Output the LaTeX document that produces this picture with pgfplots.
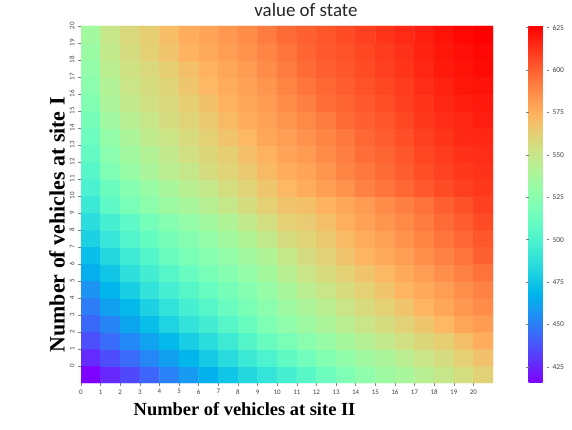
\documentclass[border=0pt]{standalone}
\usepackage{pgfplots}
\pgfplotsset{compat=1.18}
\usepackage{fontspec}
\setmainfont{Liberation Serif}
\newfontfamily\calibri{Carlito}

% matplotlib "rainbow": r=|2x-0.5|, g=sin(pi x), b=cos(pi x/2)
\pgfplotsset{
  colormap={mplrainbow}{
    rgb=(0.5,0,1) rgb=(0.4,0.156,0.997) rgb=(0.3,0.309,0.988) rgb=(0.2,0.454,0.972)
    rgb=(0.1,0.588,0.951) rgb=(0,0.707,0.924) rgb=(0.1,0.809,0.891) rgb=(0.2,0.891,0.853)
    rgb=(0.3,0.951,0.809) rgb=(0.4,0.988,0.760) rgb=(0.5,1,0.707) rgb=(0.6,0.988,0.649)
    rgb=(0.7,0.951,0.588) rgb=(0.8,0.891,0.522) rgb=(0.9,0.809,0.454) rgb=(1,0.707,0.383)
    rgb=(1,0.588,0.309) rgb=(1,0.454,0.233) rgb=(1,0.309,0.156) rgb=(1,0.156,0.078)
    rgb=(1,0,0)
  }
}

\begin{document}
\begin{tikzpicture}
\path[use as bounding box] (-81bp,-47bp) rectangle (491bp,383bp);
\begin{axis}[
  scale only axis, width=412bp, height=357bp,
  xmin=-0.5, xmax=20.5, ymin=-0.5, ymax=20.5,
  axis line style={draw=none},
  colormap name=mplrainbow,
  point meta min=415.5, point meta max=626,
  xtick={-0.5,0.5,1.5,2.5,3.5,4.5,5.5,6.5,7.5,8.5,9.5,10.5,11.5,12.5,13.5,14.5,15.5,16.5,17.5,18.5,19.5},
  xticklabels={0,1,2,3,4,5,6,7,8,9,10,11,12,13,14,15,16,17,18,19,20},
  ytick={0.5,1.5,2.5,3.5,4.5,5.5,6.5,7.5,8.5,9.5,10.5,11.5,12.5,13.5,14.5,15.5,16.5,17.5,18.5,19.5,20.5},
  yticklabels={0,1,2,3,4,5,6,7,8,9,10,11,12,13,14,15,16,17,18,19,20},
  tick pos=left, tick align=outside, major tick length=3bp,
  tick style={draw=gray, line width=0.5pt},
  ticklabel style={font=\calibri\fontsize{7}{8}\selectfont, text=black!75},
  yticklabel style={rotate=90, anchor=south},
  title={value of state},
  title style={at={(axis description cs:0.546,1)}, anchor=base, yshift=4bp,
    font=\calibri\fontsize{19}{21}\selectfont, text=black!85},
  xlabel={Number of vehicles at site II},
  xlabel style={at={(axis description cs:0.397,0)}, anchor=base, yshift=-32bp,
    font=\fontsize{18.5}{20}\selectfont\bfseries},
  ylabel={Number of vehicles at site I},
  ylabel style={at={(axis description cs:-0.04,0.443)}, anchor=base,
    font=\fontsize{22}{24}\selectfont\bfseries},
  colorbar,
  colorbar style={
    at={(parent axis.north east)}, anchor=north west, xshift=27bp,
    scale only axis, width=18bp, height=357bp,
    axis line style={draw=none},
    ytick={425,450,475,500,525,550,575,600,625},
    tick align=outside, major tick length=2.5bp,
    tick style={draw=gray, line width=0.5pt},
    yticklabel style={font=\calibri\fontsize{7.5}{8}\selectfont, text=black!75, rotate=0},
    /pgf/number format/assume math mode=true,
  },
]
\addplot[matrix plot*, mesh/cols=21, point meta=explicit]
  table[row sep=\\, x=x, y=y, meta=v] {
x y v\\
0 0 416\\ 1 0 426\\ 2 0 435\\ 3 0 443\\ 4 0 451\\ 5 0 459\\ 6 0 467\\ 7 0 475\\ 8 0 483\\ 9 0 490\\ 10 0 497\\ 11 0 505\\ 12 0 513\\ 13 0 520\\ 14 0 527\\ 15 0 533\\ 16 0 538\\ 17 0 544\\ 18 0 550\\ 19 0 555\\ 20 0 561\\
0 1 427\\ 1 1 436\\ 2 1 445\\ 3 1 453\\ 4 1 461\\ 5 1 469\\ 6 1 477\\ 7 1 485\\ 8 1 493\\ 9 1 500\\ 10 1 508\\ 11 1 515\\ 12 1 522\\ 13 1 528\\ 14 1 534\\ 15 1 539\\ 16 1 545\\ 17 1 551\\ 18 1 556\\ 19 1 562\\ 20 1 568\\
0 2 437\\ 1 2 445\\ 2 2 454\\ 3 2 462\\ 4 2 470\\ 5 2 478\\ 6 2 486\\ 7 2 494\\ 8 2 503\\ 9 2 511\\ 10 2 518\\ 11 2 525\\ 12 2 531\\ 13 2 537\\ 14 2 543\\ 15 2 548\\ 16 2 554\\ 17 2 559\\ 18 2 563\\ 19 2 569\\ 20 2 576\\
0 3 444\\ 1 3 452\\ 2 3 463\\ 3 3 472\\ 4 3 481\\ 5 3 489\\ 6 3 496\\ 7 3 504\\ 8 3 511\\ 9 3 520\\ 10 3 527\\ 11 3 533\\ 12 3 539\\ 13 3 545\\ 14 3 551\\ 15 3 556\\ 16 3 561\\ 17 3 566\\ 18 3 572\\ 19 3 578\\ 20 3 582\\
0 4 450\\ 1 4 461\\ 2 4 470\\ 3 4 480\\ 4 4 489\\ 5 4 497\\ 6 4 504\\ 7 4 511\\ 8 4 518\\ 9 4 525\\ 10 4 533\\ 11 4 539\\ 12 4 545\\ 13 4 551\\ 14 4 557\\ 15 4 562\\ 16 4 567\\ 17 4 573\\ 18 4 578\\ 19 4 583\\ 20 4 587\\
0 5 457\\ 1 5 468\\ 2 5 479\\ 3 5 489\\ 4 5 497\\ 5 5 504\\ 6 5 511\\ 7 5 517\\ 8 5 523\\ 9 5 530\\ 10 5 538\\ 11 5 545\\ 12 5 551\\ 13 5 557\\ 14 5 562\\ 15 5 567\\ 16 5 573\\ 17 5 577\\ 18 5 581\\ 19 5 586\\ 20 5 590\\
0 6 466\\ 1 6 475\\ 2 6 487\\ 3 6 496\\ 4 6 504\\ 5 6 511\\ 6 6 518\\ 7 6 523\\ 8 6 529\\ 9 6 536\\ 10 6 544\\ 11 6 551\\ 12 6 557\\ 13 6 562\\ 14 6 567\\ 15 6 572\\ 16 6 577\\ 17 6 581\\ 18 6 586\\ 19 6 590\\ 20 6 595\\
0 7 472\\ 1 7 483\\ 2 7 494\\ 3 7 503\\ 4 7 512\\ 5 7 518\\ 6 7 524\\ 7 7 529\\ 8 7 535\\ 9 7 541\\ 10 7 550\\ 11 7 556\\ 12 7 561\\ 13 7 567\\ 14 7 573\\ 15 7 577\\ 16 7 581\\ 17 7 586\\ 18 7 590\\ 19 7 594\\ 20 7 600\\
0 8 480\\ 1 8 491\\ 2 8 502\\ 3 8 510\\ 4 8 517\\ 5 8 523\\ 6 8 529\\ 7 8 535\\ 8 8 541\\ 9 8 548\\ 10 8 556\\ 11 8 560\\ 12 8 565\\ 13 8 571\\ 14 8 576\\ 15 8 580\\ 16 8 585\\ 17 8 589\\ 18 8 594\\ 19 8 598\\ 20 8 603\\
0 9 486\\ 1 9 497\\ 2 9 507\\ 3 9 516\\ 4 9 523\\ 5 9 529\\ 6 9 535\\ 7 9 541\\ 8 9 548\\ 9 9 555\\ 10 9 562\\ 11 9 564\\ 12 9 569\\ 13 9 575\\ 14 9 580\\ 15 9 584\\ 16 9 588\\ 17 9 592\\ 18 9 597\\ 19 9 601\\ 20 9 606\\
0 10 493\\ 1 10 507\\ 2 10 518\\ 3 10 526\\ 4 10 533\\ 5 10 538\\ 6 10 544\\ 7 10 550\\ 8 10 556\\ 9 10 562\\ 10 10 567\\ 11 10 569\\ 12 10 574\\ 13 10 578\\ 14 10 582\\ 15 10 587\\ 16 10 591\\ 17 10 595\\ 18 10 600\\ 19 10 604\\ 20 10 609\\
0 11 499\\ 1 11 512\\ 2 11 523\\ 3 11 531\\ 4 11 538\\ 5 11 544\\ 6 11 549\\ 7 11 555\\ 8 11 560\\ 9 11 566\\ 10 11 572\\ 11 11 576\\ 12 11 581\\ 13 11 585\\ 14 11 590\\ 15 11 594\\ 16 11 598\\ 17 11 602\\ 18 11 606\\ 19 11 609\\ 20 11 611\\
0 12 504\\ 1 12 520\\ 2 12 531\\ 3 12 538\\ 4 12 545\\ 5 12 550\\ 6 12 556\\ 7 12 560\\ 8 12 565\\ 9 12 571\\ 10 12 576\\ 11 12 579\\ 12 12 584\\ 13 12 589\\ 14 12 593\\ 15 12 597\\ 16 12 601\\ 17 12 605\\ 18 12 608\\ 19 12 611\\ 20 12 613\\
0 13 509\\ 1 13 525\\ 2 13 535\\ 3 13 542\\ 4 13 548\\ 5 13 554\\ 6 13 559\\ 7 13 563\\ 8 13 569\\ 9 13 574\\ 10 13 579\\ 11 13 582\\ 12 13 587\\ 13 13 591\\ 14 13 596\\ 15 13 599\\ 16 13 603\\ 17 13 607\\ 18 13 610\\ 19 13 613\\ 20 13 614\\
0 14 513\\ 1 14 529\\ 2 14 539\\ 3 14 547\\ 4 14 552\\ 5 14 557\\ 6 14 562\\ 7 14 567\\ 8 14 572\\ 9 14 578\\ 10 14 581\\ 11 14 585\\ 12 14 589\\ 13 14 593\\ 14 14 598\\ 15 14 601\\ 16 14 605\\ 17 14 609\\ 18 14 612\\ 19 14 615\\ 20 14 616\\
0 15 517\\ 1 15 534\\ 2 15 544\\ 3 15 550\\ 4 15 556\\ 5 15 560\\ 6 15 565\\ 7 15 571\\ 8 15 576\\ 9 15 580\\ 10 15 584\\ 11 15 588\\ 12 15 592\\ 13 15 597\\ 14 15 600\\ 15 15 603\\ 16 15 607\\ 17 15 611\\ 18 15 614\\ 19 15 616\\ 20 15 618\\
0 16 522\\ 1 16 539\\ 2 16 548\\ 3 16 554\\ 4 16 558\\ 5 16 563\\ 6 16 568\\ 7 16 574\\ 8 16 578\\ 9 16 582\\ 10 16 587\\ 11 16 591\\ 12 16 596\\ 13 16 599\\ 14 16 602\\ 15 16 605\\ 16 16 609\\ 17 16 612\\ 18 16 616\\ 19 16 618\\ 20 16 619\\
0 17 526\\ 1 17 542\\ 2 17 551\\ 3 17 556\\ 4 17 560\\ 5 17 566\\ 6 17 572\\ 7 17 576\\ 8 17 580\\ 9 17 584\\ 10 17 589\\ 11 17 594\\ 12 17 598\\ 13 17 601\\ 14 17 604\\ 15 17 607\\ 16 17 610\\ 17 17 614\\ 18 17 617\\ 19 17 620\\ 20 17 621\\
0 18 529\\ 1 18 545\\ 2 18 553\\ 3 18 558\\ 4 18 563\\ 5 18 569\\ 6 18 574\\ 7 18 578\\ 8 18 582\\ 9 18 587\\ 10 18 592\\ 11 18 597\\ 12 18 600\\ 13 18 603\\ 14 18 606\\ 15 18 609\\ 16 18 612\\ 17 18 616\\ 18 18 619\\ 19 18 621\\ 20 18 623\\
0 19 532\\ 1 19 548\\ 2 19 556\\ 3 19 562\\ 4 19 567\\ 5 19 574\\ 6 19 577\\ 7 19 581\\ 8 19 585\\ 9 19 589\\ 10 19 594\\ 11 19 599\\ 12 19 602\\ 13 19 604\\ 14 19 607\\ 15 19 610\\ 16 19 613\\ 17 19 617\\ 18 19 620\\ 19 19 622\\ 20 19 624\\
0 20 535\\ 1 20 550\\ 2 20 558\\ 3 20 563\\ 4 20 570\\ 5 20 576\\ 6 20 579\\ 7 20 583\\ 8 20 587\\ 9 20 592\\ 10 20 597\\ 11 20 600\\ 12 20 603\\ 13 20 606\\ 14 20 609\\ 15 20 612\\ 16 20 615\\ 17 20 618\\ 18 20 621\\ 19 20 624\\ 20 20 626\\
};
\end{axis}
\end{tikzpicture}
\end{document}
